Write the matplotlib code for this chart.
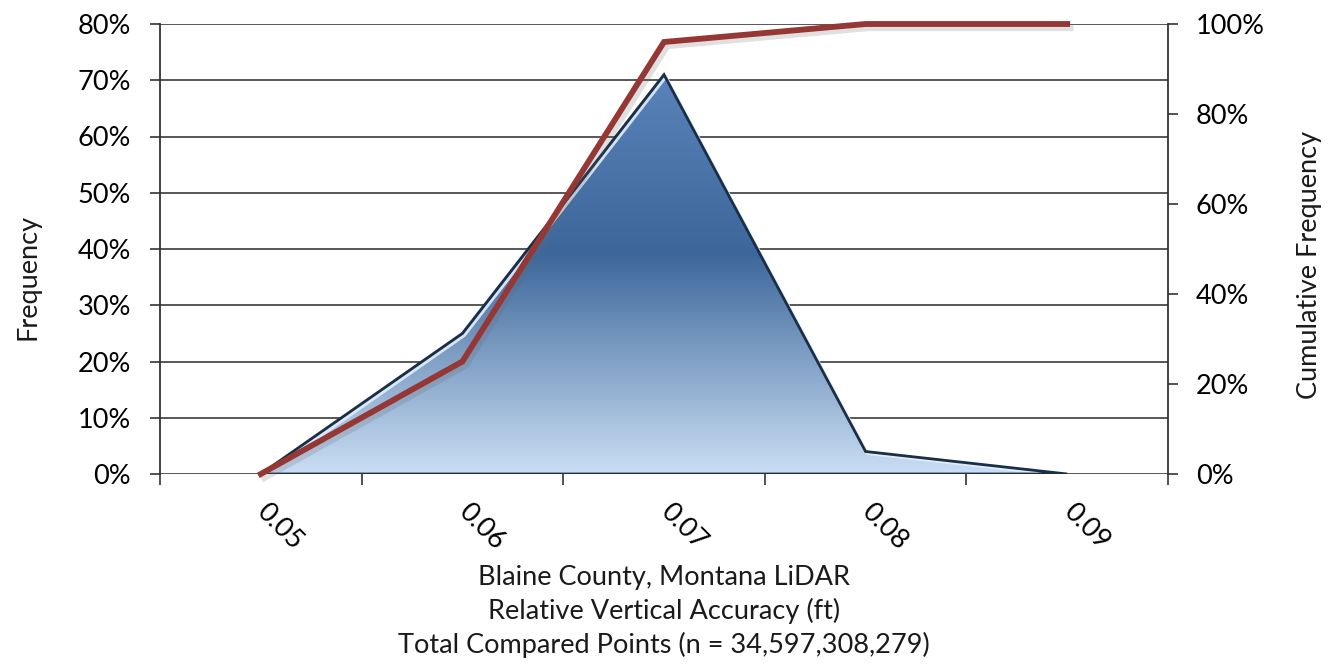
import matplotlib
matplotlib.use("Agg")

import matplotlib.pyplot as plt
import numpy as np
from matplotlib import patheffects
from matplotlib.colors import LinearSegmentedColormap
from matplotlib.patches import Polygon
from matplotlib.ticker import FixedLocator, MultipleLocator, PercentFormatter
from matplotlib.transforms import ScaledTranslation

categories = ["0.05", "0.06", "0.07", "0.08", "0.09"]
frequency = [0, 25, 71, 4, 0]
cumulative = [0, 25, 96, 100, 100]
title_lines = [
    "Blaine County, Montana LiDAR",
    "Relative Vertical Accuracy (ft)",
    "Total Compared Points (n = 34,597,308,279)",
]

plt.rcParams["font.family"] = ["Lato", "DejaVu Sans"]
plt.rcParams["font.size"] = 19.5
plt.rcParams["text.color"] = "#1a1a1a"

W, H = 1338, 669
fig = plt.figure(figsize=(W / 100, H / 100), dpi=100)
left, right, top, bottom = 160, 1168, 24, 474
ax = fig.add_axes([left / W, 1 - bottom / H, (right - left) / W, (bottom - top) / H])
ax2 = ax.twinx()

x = np.arange(len(categories))

# gradient-filled area for the frequency series
grad = LinearSegmentedColormap.from_list(
    "area", [(0.0, "#cadef4"), (0.55, "#3d679b"), (1.0, "#5a84b9")]
)
peak = max(frequency)
img = grad(np.linspace(0, 1, 256))[:, None, :]
im = ax.imshow(img, extent=(x[0], x[-1], 0, peak), origin="lower",
               aspect="auto", interpolation="bilinear", zorder=2)
verts = list(zip(x, frequency)) + [(x[-1], 0), (x[0], 0)]
poly = Polygon(verts, closed=True, facecolor="none", edgecolor="none")
ax.add_patch(poly)
im.set_clip_path(poly)

edge = Polygon(verts, closed=True, facecolor="none", edgecolor="#1b2e48",
               lw=2.0, joinstyle="miter", zorder=3,
               path_effects=[patheffects.SimpleLineShadow(offset=(1.5, -1.5), shadow_color="#e3eefa", alpha=0.9),
                             patheffects.Normal()])
ax.add_patch(edge)

# cumulative line on the secondary axis
ax2.plot(x, cumulative, color="#953735", lw=4.2, solid_joinstyle="miter",
         clip_on=False, zorder=4,
         path_effects=[patheffects.SimpleLineShadow(offset=(2.5, -3), shadow_color="#666666", alpha=0.2),
                       patheffects.Normal()])

ax.set_xlim(-0.5, len(categories) - 0.5)
ax.set_ylim(0, 80)
ax2.set_ylim(0, 100)

ax.yaxis.set_major_locator(MultipleLocator(10))
ax.yaxis.set_major_formatter(PercentFormatter(xmax=100, decimals=0))
ax2.yaxis.set_major_locator(MultipleLocator(20))
ax2.yaxis.set_major_formatter(PercentFormatter(xmax=100, decimals=0))

ax.set_axisbelow(True)
ax.grid(axis="y", color="#4a4a4a", lw=1.3)
ax.grid(axis="x", visible=False)

ax.set_xticks(x)
ax.set_xticklabels(categories, rotation=-45, ha="left", va="center",
                   rotation_mode="anchor")
shift = ScaledTranslation(-7 / 100, 0, fig.dpi_scale_trans)
for lbl in ax.get_xticklabels():
    lbl.set_transform(lbl.get_transform() + shift)
ax.xaxis.set_minor_locator(FixedLocator(np.arange(-0.5, len(categories), 1.0)))
ax.tick_params(axis="x", which="major", length=0, pad=24)
ax.tick_params(axis="x", which="minor", length=8, width=1.2, color="#333333")
ax.tick_params(axis="y", length=7, width=1.2, color="#333333", pad=14)
ax2.tick_params(axis="y", length=7, width=1.2, color="#333333", pad=13)

for a in (ax, ax2):
    for side in ("top", "bottom"):
        a.spines[side].set_visible(False)
ax.spines["left"].set_color("#333333")
ax.spines["left"].set_linewidth(1.3)
ax.spines["right"].set_visible(False)
ax2.spines["left"].set_visible(False)
ax2.spines["right"].set_color("#333333")
ax2.spines["right"].set_linewidth(1.3)

ax.set_zorder(1)
ax2.set_zorder(2)
ax2.patch.set_visible(False)

fig.text(28 / W, 1 - 277 / H, "Frequency", rotation=90, ha="center", va="center")
fig.text(1310 / W, 1 - 265 / H, "Cumulative Frequency", rotation=90, ha="center", va="center")

for line, ypix in zip(title_lines, [578, 611, 645]):
    fig.text(664 / W, 1 - ypix / H, line, ha="center", va="center")

fig.savefig("out.png", dpi=100)
